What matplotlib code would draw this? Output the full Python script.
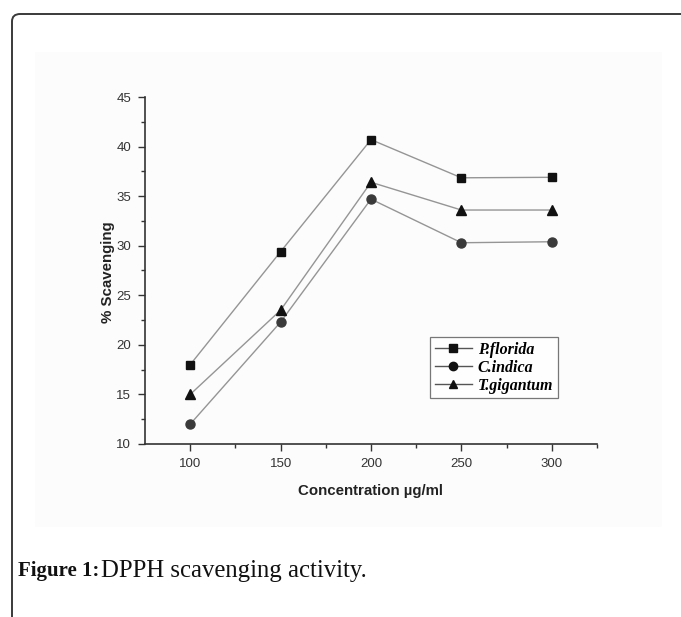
import matplotlib
matplotlib.use("Agg")
import matplotlib.pyplot as plt
from matplotlib.patches import FancyBboxPatch, Rectangle

concentration = [100, 150, 200, 250, 300]
p_florida = [18.0, 29.4, 40.7, 36.85, 36.9]
c_indica = [12.0, 22.3, 34.7, 30.3, 30.4]
t_gigantum = [15.0, 23.5, 36.4, 33.6, 33.6]
series_names = ["P.florida", "C.indica", "T.gigantum"]
xticks = [100, 150, 200, 250, 300]
yticks = [10, 15, 20, 25, 30, 35, 40, 45]

W, H = 681, 617
fig = plt.figure(figsize=(W / 100, H / 100), dpi=100)
fig.patch.set_facecolor("white")

# outer rounded frame (extends beyond right/bottom edge)
frame = FancyBboxPatch((12 / W, -0.2), 1.2, 1 - 14 / H + 0.2,
                       boxstyle="round,pad=0,rounding_size=0.012",
                       transform=fig.transFigure, fill=False,
                       edgecolor="#3a3a3a", linewidth=1.4, clip_on=False, zorder=-2)
fig.patches.append(frame)

# faint image background
bg = Rectangle((35 / W, 1 - 527 / H), (662 - 35) / W, (527 - 52) / H,
               transform=fig.transFigure, facecolor="#fcfcfc",
               edgecolor="none", zorder=-1)
fig.patches.append(bg)

left, right, top, bottom = 145, 597, 97, 444
ax = fig.add_axes([left / W, 1 - bottom / H, (right - left) / W, (bottom - top) / H])
ax.set_facecolor("none")
ax.set_zorder(2)

line_color = "#959595"
ax.plot(concentration, p_florida, color=line_color, lw=1.0, marker="s",
        markersize=6, markerfacecolor="#111111", markeredgecolor="#111111",
        label=series_names[0], zorder=3)
ax.plot(concentration, c_indica, color=line_color, lw=1.0, marker="o",
        markersize=6.5, markerfacecolor="#3a3a3a", markeredgecolor="#3a3a3a",
        label=series_names[1], zorder=3)
ax.plot(concentration, t_gigantum, color=line_color, lw=1.0, marker="^",
        markersize=7, markerfacecolor="#111111", markeredgecolor="#111111",
        label=series_names[2], zorder=3)

ax.set_xlim(75, 325)
ax.set_ylim(10, 45)
ax.set_xticks(xticks)
ax.set_yticks(yticks)
ax.set_xticks([125, 175, 225, 275, 325], minor=True)
ax.set_yticks([12.5, 17.5, 22.5, 27.5, 32.5, 37.5, 42.5], minor=True)

for s in ["top", "right"]:
    ax.spines[s].set_visible(False)
for s in ["left", "bottom"]:
    ax.spines[s].set_color("#333333")
    ax.spines[s].set_linewidth(1.2)

ax.tick_params(which="major", direction="out", length=5, width=1, color="#333333",
               labelsize=9.5, labelcolor="#333333", pad=5)
ax.tick_params(which="minor", direction="out", length=3, width=1, color="#333333")
for lab in ax.get_xticklabels() + ax.get_yticklabels():
    lab.set_family("Liberation Sans")

ax.set_xlabel("Concentration \u00b5g/ml", fontsize=10.8, fontweight="bold",
              family="Liberation Sans", color="#222222", labelpad=10)
ax.set_ylabel("% Scavenging", fontsize=10.8, fontweight="bold",
              family="Liberation Sans", color="#222222")
ax.yaxis.set_label_coords((115 - left) / (right - left), (bottom - 272) / (bottom - top))

leg = ax.legend(loc="upper left", bbox_to_anchor=((430 - left) / (right - left), (bottom - 337) / (bottom - top)),
                frameon=True, fancybox=False, borderpad=0.3, handlelength=2.3,
                handletextpad=0.4, labelspacing=0.12, borderaxespad=0,
                prop={"family": "Liberation Serif", "weight": "bold",
                      "style": "italic", "size": 11.5})
leg.get_frame().set_edgecolor("#555555")
leg.get_frame().set_linewidth(0.9)
for h in leg.legend_handles:
    h.set_color("#555555")
    h.set_markerfacecolor("#111111")
    h.set_markeredgecolor("#111111")
    h.set_markersize(6)

# caption
fig.text(18 / W, 1 - 571 / H, "Figure 1:", fontsize=15, fontweight="bold",
         family="Liberation Serif", va="center", ha="left", color="#111111")
fig.text(101 / W, 1 - 571 / H, "DPPH scavenging activity.", fontsize=17.8,
         family="Liberation Serif", va="center", ha="left", color="#111111")

fig.savefig("out.png", dpi=100, facecolor="white")
